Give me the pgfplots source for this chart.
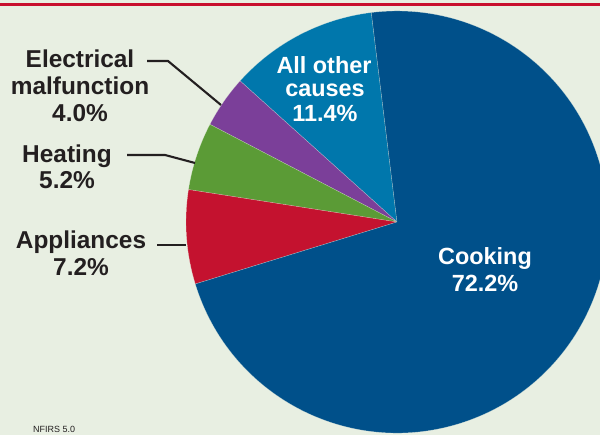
\documentclass[border=0pt]{standalone}
\usepackage{pgfplots}
\usepackage{pgfplotstable}
\pgfplotsset{compat=1.18}
\usepackage{fontspec}
\setmainfont{Liberation Sans}
\definecolor{bgc}{HTML}{E8EFE2}
\definecolor{topred}{HTML}{C8102E}
\definecolor{txt}{HTML}{231F20}
\definecolor{slice0}{HTML}{0077AC}
\definecolor{slice1}{HTML}{7B3F99}
\definecolor{slice2}{HTML}{5B9B36}
\definecolor{slice3}{HTML}{C4122F}
\definecolor{slice4}{HTML}{00508A}
\pgfplotstableread{
label value
AllOther 11.4
Electrical 4.0
Heating 5.2
Appliances 7.2
Cooking 72.2
}\piedata
\begin{document}
\begin{tikzpicture}[x=1bp,y=1bp]
\useasboundingbox (0,0) rectangle (600,435);
\fill[bgc] (0,0) rectangle (600,435);
\xdef\acc{97}
\foreach \i in {0,...,4}{
  \pgfplotstablegetelem{\i}{value}\of\piedata
  \pgfmathsetmacro\e{\acc+3.6*\pgfplotsretval}
  \expandafter\xdef\csname sA\i\endcsname{\acc}
  \expandafter\xdef\csname eA\i\endcsname{\e}
  \xdef\acc{\e}
}
\begin{axis}[x=1bp,y=1bp,xmin=0,xmax=600,ymin=0,ymax=435,hide axis,clip=false,
  scale only axis,at={(0,0)},anchor=south west]
\pgfplotsinvokeforeach{0,...,4}{
  \fill[slice#1,draw=bgc,draw opacity=0.45,line width=0.4bp]
    (axis cs:397,213) -- +(\csname sA#1\endcsname:211bp)
    arc[start angle=\csname sA#1\endcsname, end angle=\csname eA#1\endcsname, radius=211bp] -- cycle;
}
\draw[topred,line width=2.7bp] (axis cs:0,430.3) -- (axis cs:600,430.3);
% leader lines
\draw[txt,line width=2.1bp] (axis cs:147,374) -- (axis cs:168,374) -- (axis cs:221,330);
\draw[txt,line width=2.1bp] (axis cs:127,280) -- (axis cs:165,280) -- (axis cs:195,272);
\draw[txt,line width=2.1bp] (axis cs:157,190) -- (axis cs:186,190);
% labels
\begin{scope}[every node/.style={anchor=base,inner sep=0pt,font=\fontsize{24.5}{28}\selectfont\bfseries}]
\node[txt] at (axis cs:80,367) {Electrical};
\node[txt] at (axis cs:80,340) {malfunction};
\node[txt] at (axis cs:80,313) {4.0\%};
\node[txt] at (axis cs:67,272) {Heating};
\node[txt] at (axis cs:67,246) {5.2\%};
\node[txt] at (axis cs:81,186) {Appliances};
\node[txt] at (axis cs:81,159) {7.2\%};
\end{scope}
\begin{scope}[every node/.style={anchor=base,inner sep=0pt,font=\fontsize{23.5}{27}\selectfont\bfseries}]
\node[white] at (axis cs:324,361) {All other};
\node[white] at (axis cs:325,338) {causes};
\node[white] at (axis cs:325,313) {11.4\%};
\node[white] at (axis cs:485,170) {Cooking};
\node[white] at (axis cs:485,143) {72.2\%};
\end{scope}
\node[anchor=base west,inner sep=0pt,txt,font=\fontsize{9}{11}\selectfont] at (axis cs:33,2) {NFIRS 5.0};
\end{axis}
\end{tikzpicture}
\end{document}
